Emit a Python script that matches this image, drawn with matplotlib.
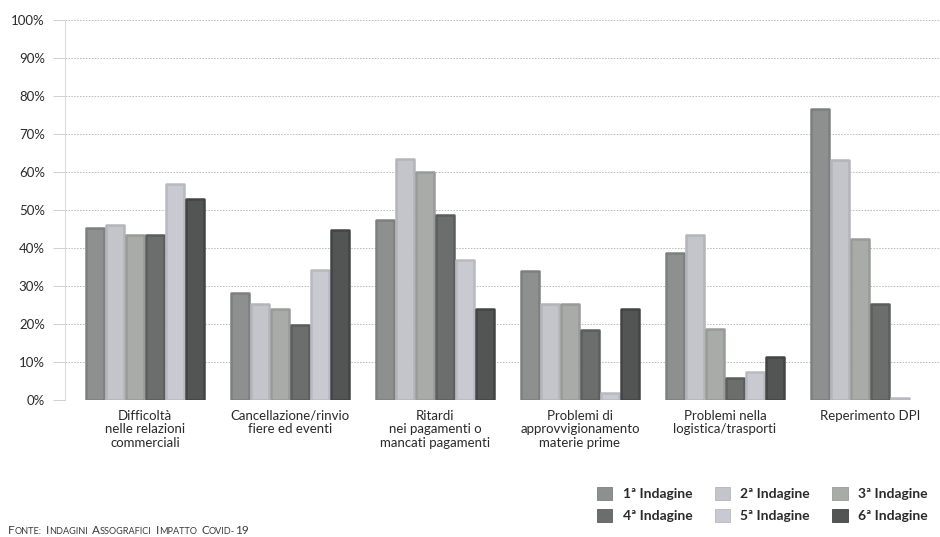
import numpy as np
import matplotlib.pyplot as plt
from matplotlib.patches import Patch

# Dati (percentuali)
categorie = ['Difficoltà\nnelle relazioni\ncommerciali',
             'Cancellazione/rinvio\nfiere ed eventi',
             'Ritardi\nnei pagamenti o\nmancati pagamenti',
             'Problemi di\napprovvigionamento\nmaterie prime',
             'Problemi nella\nlogistica/trasporti',
             'Reperimento DPI']
indagini = ['1ª Indagine', '2ª Indagine', '3ª Indagine',
            '4ª Indagine', '5ª Indagine', '6ª Indagine']
valori = [
    [45.2, 28.1, 47.5, 33.9, 38.6, 76.6],   # 1ª
    [46.0, 25.3, 63.3, 25.3, 43.4, 63.2],   # 2ª
    [43.4, 24.0, 60.1, 25.3, 18.6, 42.3],   # 3ª
    [43.3, 19.8, 48.7, 18.4, 5.9, 25.3],    # 4ª
    [56.9, 34.1, 36.8, 1.9, 7.5, 0.6],      # 5ª
    [52.8, 44.7, 23.9, 23.9, 11.2, np.nan],  # 6ª (nessun dato DPI)
]
colori = ['#8e9090', '#c4c4cb', '#a9aba9', '#6c6e6e', '#c9c9d1', '#535555']
bordi = ['#7e8080', '#b4b4bb', '#999b99', '#5c5e5e', '#b9b9c1', '#434545']

plt.rcParams['font.family'] = ['Lato', 'DejaVu Sans']

fig = plt.figure(figsize=(9.4, 5.37), dpi=100)
ax = fig.add_axes([65 / 940, 137 / 537, 875 / 940, 380 / 537])

x = np.arange(len(categorie))
passo = 0.138
largh = 0.118
for i, serie in enumerate(valori):
    off = (i - 2.5) * passo
    ax.bar(x + off, serie, width=largh, color=colori[i], edgecolor=bordi[i],
           linewidth=1.8, joinstyle='round', zorder=3)

ax.set_xlim(-0.552, 5.483)
ax.set_ylim(0, 100)
ax.set_yticks(np.arange(0, 101, 10))
ax.set_yticklabels([f'{v}%' for v in range(0, 101, 10)])
ax.set_xticks(x)
ax.set_xticklabels(categorie, fontsize=9.5, linespacing=1.15, color='#2a2a2a')

ax.grid(axis='y', linestyle=(0, (1.5, 1.5)), color='#b8b8b8', linewidth=0.7, zorder=0)
ax.tick_params(axis='x', length=0, pad=7)
ax.tick_params(axis='y', length=8.5, width=0.6, color='#c8c8c8', pad=6,
               labelsize=9.5, labelcolor='#2a2a2a')
for s in ['top', 'right', 'bottom']:
    ax.spines[s].set_visible(False)
ax.spines['left'].set_color('#d4d4d4')
ax.spines['left'].set_linewidth(0.6)

# Legenda: 3 colonne, riempimento per righe
ordine = [0, 3, 1, 4, 2, 5]
maniglie = [Patch(facecolor=colori[i], edgecolor=bordi[i], linewidth=0.6,
                  label=indagini[i]) for i in ordine]
fig.legend(handles=maniglie, loc='upper left', bbox_to_anchor=(597 / 940, 1 - 487 / 537),
           ncol=3, frameon=False, borderpad=0, borderaxespad=0,
           handlelength=1.1, handleheight=1.1, handletextpad=0.75,
           columnspacing=1.6, labelspacing=0.62,
           prop={'size': 10, 'weight': 'bold'}, labelcolor='#2a2a2a')

# Fonte in maiuscoletto
pezzi = [('F', 8.5, 0), ('ONTE:', 6.6, 0), ('I', 8.5, 3), ('NDAGINI', 6.6, 0),
         ('A', 8.5, 3), ('SSOGRAFICI', 6.6, 0), ('I', 8.5, 3), ('MPATTO', 6.6, 0),
         ('C', 8.5, 3), ('OVID-', 6.6, 0), ('19', 8.5, 0)]
prec = fig.text(8 / 940, 3 / 537, pezzi[0][0], fontsize=pezzi[0][1],
                color='#3a3a3a', va='baseline')
for testo, dim, gap in pezzi[1:]:
    prec = ax.annotate(testo, xy=(1, 0), xycoords=prec, xytext=(gap, 0),
                       textcoords='offset points', fontsize=dim, color='#3a3a3a',
                       va='bottom', ha='left', annotation_clip=False)

fig.savefig('out.png', dpi=100, facecolor='white')
